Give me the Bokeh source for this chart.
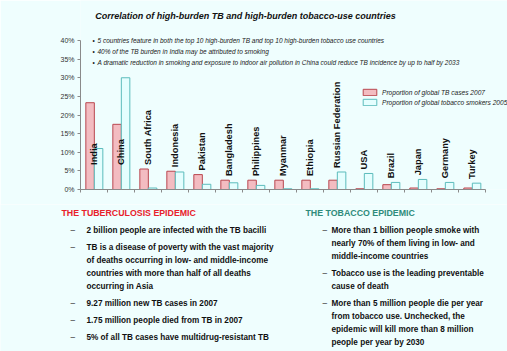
from bokeh.plotting import figure
from bokeh.models import Range1d, FixedTicker, PrintfTickFormatter, Legend, LegendItem, ColumnDataSource
from bokeh.layouts import column
from bokeh.core.properties import value
from bokeh.embed import file_html
from bokeh.resources import INLINE
import numpy as np

countries = ["India", "China", "South Africa", "Indonesia", "Pakistan", "Bangladesh",
             "Philippines", "Myanmar", "Ethiopia", "Russian Federation", "USA", "Brazil",
             "Japan", "Germany", "Turkey"]
tb_cases_2007 = [23.3, 17.5, 5.5, 4.9, 4.0, 2.5, 2.5, 2.5, 2.5, 2.5, 0.2, 1.3, 0.4, 0.2, 0.4]
tobacco_smokers_2005 = [11.0, 30.0, 0.4, 4.7, 1.4, 1.8, 1.1, 0.2, 0.2, 4.7, 4.3, 1.9, 2.7, 1.9, 1.7]
y_ticks = [0, 5, 10, 15, 20, 25, 30, 35, 40]

title_text = "Correlation of high-burden TB and high-burden tobacco-use countries"
bullets = ["5 countries feature in both the top 10 high-burden TB and top 10 high-burden tobacco use countries",
           "40% of the TB burden in India may be attributed to smoking",
           "A dramatic reduction in smoking and exposure to indoor air pollution in China could reduce TB incidence by up to half by 2033"]
left_head = "THE TUBERCULOSIS EPIDEMIC"
right_head = "THE TOBACCO EPIDEMIC"
left_items = [["2 billion people are infected with the TB bacilli"],
              ["TB is a disease of poverty with the vast majority",
               "of deaths occurring in low- and middle-income",
               "countries with more than half of all deaths",
               "occurring in Asia"],
              ["9.27 million new TB cases in 2007"],
              ["1.75 million people died from TB in 2007"],
              ["5% of all TB cases have multidrug-resistant TB"]]
right_items = [["More than 1 billion people smoke with",
                "nearly 70% of them living in low- and",
                "middle-income countries"],
               ["Tobacco use is the leading preventable",
                "cause of death"],
               ["More than 5 million people die per year",
                "from tobacco use. Unchecked, the",
                "epidemic will kill more than 8 million",
                "people per year by 2030"]]

W = 507
BG = "#effefe"
FONT = "Liberation Sans"

# ---------------- chart figure (top part, y 0..204) ----------------
CH = 204
L, Bm = 80, 15
frame_bottom = CH - Bm          # 189 px
px_per_pct = 149 / 40.0
px_per_cat = 27.0
fw = W - L
y_end = frame_bottom / px_per_pct
x_end = fw / px_per_cat

p = figure(width=W, height=CH, output_backend="svg", toolbar_location=None,
           x_range=Range1d(0, x_end), y_range=Range1d(0, y_end),
           min_border_left=L, min_border_right=0, min_border_top=0, min_border_bottom=Bm)
p.frame_align = False
p.background_fill_color = BG
p.border_fill_color = BG
p.outline_line_color = None
p.xgrid.visible = False
p.ygrid.visible = False

def dx(px):
    return (px - L) / px_per_cat
def dy(py):
    return (frame_bottom - py) / px_per_pct

idx = np.arange(len(countries)) + 0.5
src = ColumnDataSource(dict(
    xc=idx, x_tb=idx - 0.145, x_tob=idx + 0.17, tb=tb_cases_2007, tob=tobacco_smokers_2005,
    name=countries,
    ly=[min(max(a, b), 5.5) + 1.1 for a, b in zip(tb_cases_2007, tobacco_smokers_2005)],
))

r1 = p.vbar(x="x_tb", top="tb", width=0.315, source=src, fill_color="#f3bcc1",
            line_color="#b9474f", line_width=1)
r2 = p.vbar(x="x_tob", top="tob", width=0.315, source=src, fill_color="#e4fefe",
            line_color="#5cbcbc", line_width=1)

p.text(x="xc", y="ly", text="name", source=src, angle=np.pi / 2,
       text_align="left", text_baseline="middle", text_font=value(FONT),
       text_font_style="bold", text_font_size="9.3px", text_color="#111111")

# axes
p.yaxis.ticker = FixedTicker(ticks=y_ticks)
p.yaxis.bounds = (0, 40)
p.yaxis.formatter = PrintfTickFormatter(format="%d%%")
p.yaxis.axis_line_color = "#8a8a8a"
p.yaxis.major_tick_line_color = "#8a8a8a"
p.yaxis.major_tick_out = 3
p.yaxis.major_tick_in = 0
p.yaxis.minor_tick_line_color = None
p.yaxis.major_label_text_font = FONT
p.yaxis.major_label_text_font_size = "7px"
p.yaxis.major_label_text_color = "#333333"
p.yaxis.major_label_standoff = 3

p.xaxis.ticker = FixedTicker(ticks=list(range(len(countries) + 1)))
p.xaxis.bounds = (0, len(countries))
p.xaxis.major_label_overrides = {i: "" for i in range(len(countries) + 1)}
p.xaxis.major_label_text_font_size = "1px"
p.xaxis.major_label_standoff = 0
p.xaxis.axis_line_color = "#8a8a8a"
p.xaxis.major_tick_line_color = "#8a8a8a"
p.xaxis.major_tick_out = 3
p.xaxis.major_tick_in = 0
p.xaxis.minor_tick_line_color = None

legend = Legend(items=[LegendItem(label="Proportion of global TB cases 2007", renderers=[r1]),
                       LegendItem(label="Proportion of global tobacco smokers 2005", renderers=[r2])],
                location=(281, 83), padding=0, spacing=2, margin=0,
                glyph_width=17, glyph_height=8, label_height=8, label_standoff=4,
                label_text_font=FONT, label_text_font_style="italic",
                label_text_font_size="6.6px", label_text_color="#222222",
                background_fill_alpha=0, border_line_color=None)
p.add_layout(legend, "center")

tsrc = ColumnDataSource(dict(x=[dx(245)], y=[dy(15)], t=[title_text]))
p.text(x="x", y="y", text="t", source=tsrc, text_align="center", text_baseline="middle",
       text_font=value(FONT), text_font_style="bold italic", text_font_size="9px",
       text_color="#111111")

bsrc = ColumnDataSource(dict(xb=[dx(92)] * 3, xt=[dx(97)] * 3,
                             y=[dy(40), dy(51), dy(62)], t=bullets, dot=["\u2022"] * 3))
p.text(x="xb", y="y", text="dot", source=bsrc, text_baseline="middle", text_font=value(FONT),
       text_font_size="6.5px", text_color="#222222")
p.text(x="xt", y="y", text="t", source=bsrc, text_baseline="middle", text_font=value(FONT),
       text_font_style="italic", text_font_size="6.5px", text_color="#222222")

# ---------------- text figure (bottom part, y 204..351) ----------------
BH = 351 - CH
q = figure(width=W, height=BH, output_backend="svg", toolbar_location=None,
           x_range=Range1d(0, W), y_range=Range1d(351, CH),
           x_axis_type=None, y_axis_type=None, min_border=0)
q.frame_align = False
q.background_fill_color = BG
q.border_fill_color = BG
q.outline_line_color = None
q.xgrid.visible = False
q.ygrid.visible = False

q.text(x=[61, 305], y=[212, 212], text=[left_head, right_head], text_baseline="middle",
       text_font=value(FONT), text_font_style="bold", text_font_size="8.8px",
       text_color=["#e8202a", "#2e8b7b"])

def block(items, dash_x, text_x, y0):
    dxs, dys, txs, tys, tt = [], [], [], [], []
    y = y0
    for item in items:
        dxs.append(dash_x)
        dys.append(y)
        for line in item:
            txs.append(text_x)
            tys.append(y)
            tt.append(line)
            y += 13
        y += 4
    q.text(x=dxs, y=dys, text=["\u2013"] * len(dxs), text_baseline="middle",
           text_font=value(FONT), text_font_size="8.2px", text_color="#333333")
    q.text(x=txs, y=tys, text=tt, text_baseline="middle", text_font=value(FONT),
           text_font_style="bold", text_font_size="8.2px", text_color="#111111")

block(left_items, 70, 86, 230)
block(right_items, 322, 331, 230)

layout = column(p, q, spacing=0)
open("out.html", "w").write(file_html(layout, INLINE))
